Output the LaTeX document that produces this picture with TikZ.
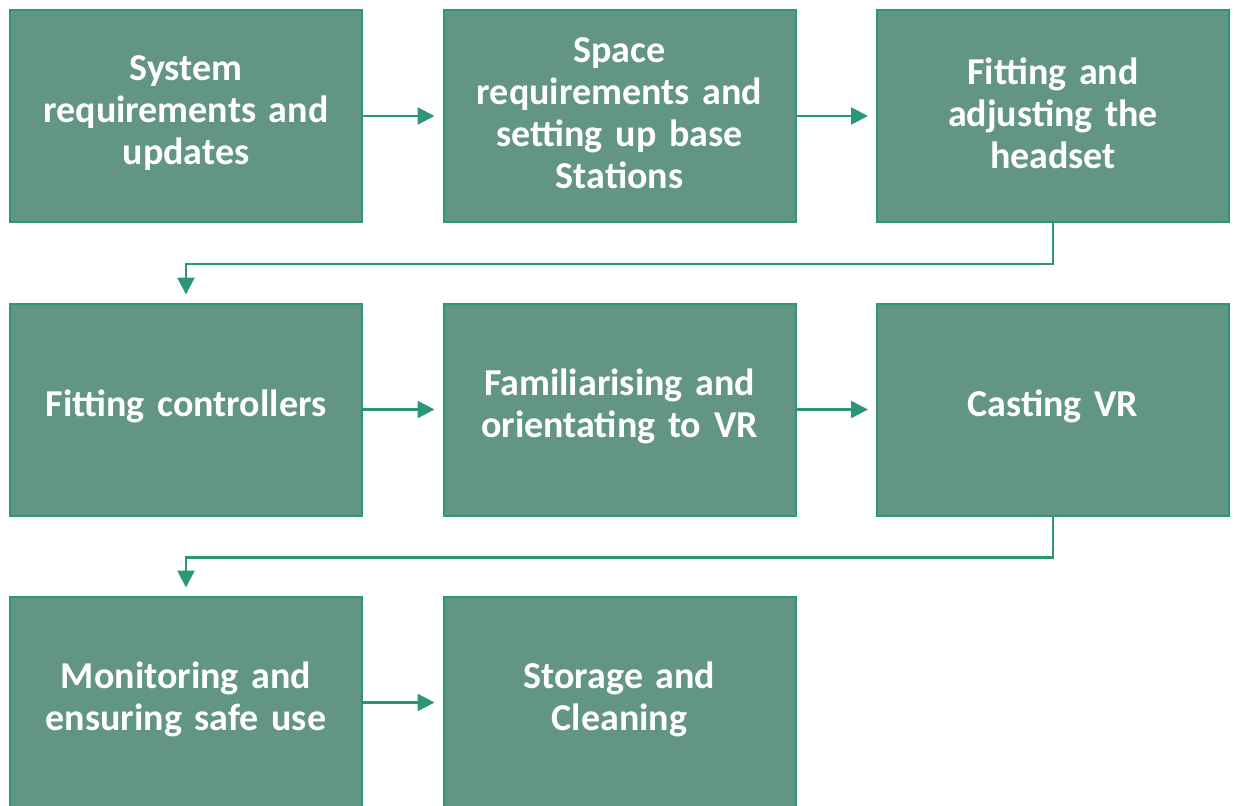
\documentclass[tikz,border=0pt]{standalone}
\usepackage{fontspec}
\setmainfont{Carlito}[WordSpace=0.75]
\usetikzlibrary{arrows.meta}
\definecolor{boxfill}{RGB}{98,150,130}
\definecolor{boxline}{RGB}{46,150,120}
\begin{document}
\begin{tikzpicture}[x=1pt,y=-1pt,
  stepbox/.style={draw=boxline, line width=2pt, fill=boxfill,
    minimum width=352pt, minimum height=212pt, inner sep=0pt},
  steptext/.style={text=white, font=\bfseries\fontsize{38}{42}\selectfont,
    align=center, text width=345pt, yshift=3pt},
  flow/.style={draw=boxline, line width=2.5pt,
    -{Triangle[length=17pt,width=17pt]}, shorten >=8pt}]
\useasboundingbox (0,0) rectangle (1235,806);
\fill[white] (0,0) rectangle (1235,806);
\node[stepbox, label={[steptext]center:{System\\requirements and\\updates}}] (b1) at (186,116) {};
\node[stepbox, label={[steptext]center:{Space\\requirements and\\setting up base\\Stations}}] (b2) at (619.5,116) {};
\node[stepbox, label={[steptext]center:{Fitting and\\adjusting the\\headset}}] (b3) at (1053,116) {};
\node[stepbox, label={[steptext]center:{Fitting controllers}}] (b4) at (186,409.5) {};
\node[stepbox, label={[steptext]center:{Familiarising and\\orientating to VR}}] (b5) at (619.5,409.5) {};
\node[stepbox, label={[steptext]center:{Casting VR}}] (b6) at (1053,409.5) {};
\node[stepbox, label={[steptext]center:{Monitoring and\\ensuring safe use}}] (b7) at (186,702.5) {};
\node[stepbox, label={[steptext]center:{Storage and\\Cleaning}}] (b8) at (619.5,702.5) {};
\draw[flow] (b1) -- (b2);
\draw[flow] (b2) -- (b3);
\draw[flow] (b4) -- (b5);
\draw[flow] (b5) -- (b6);
\draw[flow] (b7) -- (b8);
\draw[flow] (b3.south) -- ++(0,41) -| (b4.north);
\draw[flow] (b6.south) -- ++(0,41) -| (b7.north);
\end{tikzpicture}
\end{document}
